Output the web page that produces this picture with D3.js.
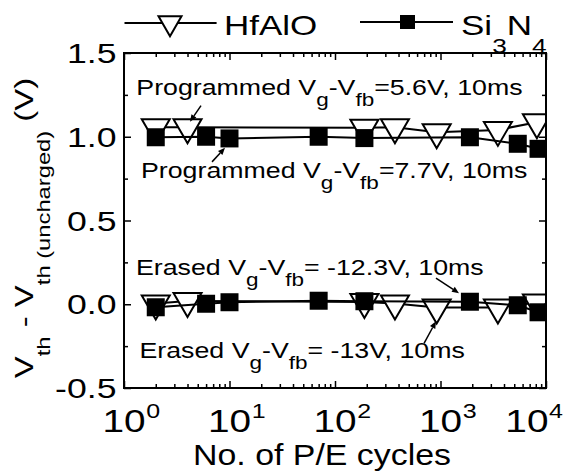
<!DOCTYPE html>
<html>
<head>
<meta charset="utf-8">
<script src="https://cdn.jsdelivr.net/npm/d3@7"></script>
<style>
  html, body { margin: 0; padding: 0; background: #fff; }
  svg { display: block; }
  text { font-family: "Liberation Sans", Arial, sans-serif; fill: #000; white-space: pre; }
</style>
</head>
<body>
<div id="chart"></div>
<script>
// P/E cycle counts at which the threshold shift was measured
const hfCycles = [2, 4, 190, 370, 920, 3500, 8200];
const siCycles = [2, 6, 10, 70, 190, 1900, 5400, 8500];

// Vth - Vth(uncharged), volts
const hfProgrammed = [1.057, 1.057, 1.053, 1.057, 1.027, 1.041, 1.087];
const hfErased     = [0.004, 0.020, 0.014, 0.004, -0.020, -0.020, 0.010];
const siProgrammed = [0.997, 1.000, 0.990, 1.000, 0.992, 0.997, 0.958, 0.928];
const siErased     = [-0.018, 0.003, 0.012, 0.021, 0.018, 0.015, -0.006, -0.048];

const xDecades = [1, 10, 100, 1000, 10000];
const xDecadeExp = ["0", "1", "2", "3", "4"];
const yMajor = [-0.5, 0.0, 0.5, 1.0, 1.5];
const yMajorLabels = ["-0.5", "0.0", "0.5", "1.0", "1.5"];
const yMinor = [-0.25, 0.25, 0.75, 1.25];

const W = 566, H = 472;
const plot = { left: 124, right: 546, top: 53, bottom: 388 };
const SX = 1.25; // horizontal stretch of the lettering

const svg = d3.select("#chart").append("svg")
  .attr("width", W).attr("height", H);

const x = d3.scaleLog().domain([1, 1e4]).range([plot.left, plot.right]);
const y = d3.scaleLinear().domain([-0.5, 1.5]).range([plot.bottom, plot.top]);

// Lays out runs of text (with sub/superscripts) one after another,
// measuring each run so the pieces butt up against each other.
function rich(parent, transform, runs, anchor) {
  const g = parent.append("g").attr("transform", transform);
  let cx = 0;
  const els = runs.map(r => {
    const t = g.append("text").attr("x", cx).attr("y", r.dy || 0)
      .attr("font-size", r.size).text(r.t);
    cx += t.node().getComputedTextLength();
    return t;
  });
  const shift = anchor === "middle" ? -cx / 2 : anchor === "end" ? -cx : 0;
  els.forEach(t => t.attr("x", +t.attr("x") + shift));
  return g;
}

// minor ticks 2..9 in each decade
const xMinor = [];
for (let d = 1; d < 1e4; d *= 10) for (let k = 2; k <= 9; k++) xMinor.push(d * k);

function styleAxis(g) {
  g.select(".domain").remove();
  g.selectAll("line").attr("stroke", "#000").attr("stroke-width", 1.5);
  g.selectAll("text").remove();
}

// inward-pointing ticks on all four sides
const axesG = svg.append("g");
axesG.append("g").attr("transform", `translate(0,${plot.bottom})`)
  .call(d3.axisBottom(x).tickValues(xDecades).tickSize(-7)).call(styleAxis);
axesG.append("g").attr("transform", `translate(0,${plot.bottom})`)
  .call(d3.axisBottom(x).tickValues(xMinor).tickSize(-4)).call(styleAxis);
axesG.append("g").attr("transform", `translate(0,${plot.top})`)
  .call(d3.axisTop(x).tickValues(xDecades).tickSize(-7)).call(styleAxis);
axesG.append("g").attr("transform", `translate(0,${plot.top})`)
  .call(d3.axisTop(x).tickValues(xMinor).tickSize(-4)).call(styleAxis);
axesG.append("g").attr("transform", `translate(${plot.left},0)`)
  .call(d3.axisLeft(y).tickValues(yMajor).tickSize(-7)).call(styleAxis);
axesG.append("g").attr("transform", `translate(${plot.left},0)`)
  .call(d3.axisLeft(y).tickValues(yMinor).tickSize(-4)).call(styleAxis);
axesG.append("g").attr("transform", `translate(${plot.right},0)`)
  .call(d3.axisRight(y).tickValues(yMajor).tickSize(-7)).call(styleAxis);
axesG.append("g").attr("transform", `translate(${plot.right},0)`)
  .call(d3.axisRight(y).tickValues(yMinor).tickSize(-4)).call(styleAxis);

// y tick labels
yMajor.forEach((v, i) => {
  svg.append("g").attr("transform", `translate(116.5,${y(v) + 10}) scale(${SX},1)`)
    .append("text").attr("text-anchor", "end").attr("font-size", 28.5)
    .text(yMajorLabels[i]);
});

// x tick labels: 10 with a superscript exponent; a label whose exponent
// would run past the figure edge is pulled back inside
xDecades.forEach((v, i) => {
  const g = svg.append("g");
  const inner = g.append("g").attr("transform", `scale(${SX},1)`);
  const base = inner.append("text").attr("text-anchor", "middle").attr("font-size", 31).text("10");
  const half = base.node().getComputedTextLength() / 2;
  const sup = inner.append("text").attr("x", half + 0.5).attr("y", -14)
    .attr("font-size", 20).text(xDecadeExp[i]);
  const rightEdge = x(v) + (half + 0.5 + sup.node().getComputedTextLength()) * SX;
  const nudge = Math.min(0, W - 3 - rightEdge);
  g.attr("transform", `translate(${x(v) + nudge},432)`);
});

// axis titles
svg.append("g").attr("transform", `translate(322,465) scale(1.13,1)`)
  .append("text").attr("text-anchor", "middle").attr("font-size", 30)
  .text("No. of P/E cycles");

rich(svg, `translate(33,228) rotate(-90) scale(1.32,1)`, [
  { t: "V", size: 25 },
  { t: "th", size: 18, dy: 17 },
  { t: " - V", size: 25 },
  { t: "th (uncharged)", size: 18, dy: 17 },
  { t: " (V)", size: 25 }
], "middle");

// plot contents, clipped to the frame
svg.append("clipPath").attr("id", "plotClip").append("rect")
  .attr("x", plot.left).attr("y", plot.top)
  .attr("width", plot.right - plot.left).attr("height", plot.bottom - plot.top);
const body = svg.append("g").attr("clip-path", "url(#plotClip)");

const line = d3.line().x(d => x(d[0])).y(d => y(d[1]));
const zip = (xs, ys) => xs.map((c, i) => [c, ys[i]]);

// downward triangle with its centroid at the origin
function triPath(hw, h) {
  return `M${-hw},${-h / 3}L${hw},${-h / 3}L0,${2 * h / 3}Z`;
}

const hfSets = [zip(hfCycles, hfProgrammed), zip(hfCycles, hfErased)];
const siSets = [zip(siCycles, siProgrammed), zip(siCycles, siErased)];

hfSets.forEach(pts => {
  body.append("path").attr("d", line(pts)).attr("fill", "none")
    .attr("stroke", "#000").attr("stroke-width", 2);
  body.selectAll(null).data(pts).enter().append("path")
    .attr("d", triPath(14, 24))
    .attr("transform", d => `translate(${x(d[0])},${y(d[1])})`)
    .attr("fill", "#fff").attr("stroke", "#000").attr("stroke-width", 2);
});

siSets.forEach(pts => {
  body.append("path").attr("d", line(pts)).attr("fill", "none")
    .attr("stroke", "#000").attr("stroke-width", 2);
  body.selectAll(null).data(pts).enter().append("rect")
    .attr("x", d => x(d[0]) - 9).attr("y", d => y(d[1]) - 9)
    .attr("width", 18).attr("height", 18).attr("fill", "#000");
});

// frame
svg.append("rect").attr("x", plot.left).attr("y", plot.top)
  .attr("width", plot.right - plot.left).attr("height", plot.bottom - plot.top)
  .attr("fill", "none").attr("stroke", "#000").attr("stroke-width", 2);

// annotations: text with V_g - V_fb subscripts
function note(px, py, before, after) {
  rich(svg, `translate(${px},${py}) scale(${SX},1)`, [
    { t: before + "V", size: 21.4 },
    { t: "g", size: 18, dy: 11 },
    { t: "-V", size: 21.4 },
    { t: "fb", size: 18, dy: 11 },
    { t: after, size: 21.4 }
  ]);
}
note(136.3, 95, "Programmed ", "=5.6V, 10ms");
note(141, 177.6, "Programmed ", "=7.7V, 10ms");
note(136, 275, "Erased ", "= -12.3V, 10ms");
note(139.5, 358.3, "Erased ", "= -13V, 10ms");

// arrows pointing from each note to its curve (data coordinates)
const arrows = [
  [[5.37, 1.186], [4.22, 1.09]],
  [[6.83, 0.850], [9.06, 0.934]],
  [[906, 0.156], [1497, 0.066]],
  [[698, -0.234], [906, -0.102]]
];
arrows.forEach(([a, b]) => {
  const x1 = x(a[0]), y1 = y(a[1]), x2 = x(b[0]), y2 = y(b[1]);
  const ang = Math.atan2(y2 - y1, x2 - x1);
  const L = 7, Wd = 3;
  const bx = x2 - L * Math.cos(ang), by = y2 - L * Math.sin(ang);
  svg.append("line").attr("x1", x1).attr("y1", y1).attr("x2", bx).attr("y2", by)
    .attr("stroke", "#000").attr("stroke-width", 1.5);
  svg.append("path")
    .attr("d", `M${x2},${y2}L${bx - Wd * Math.sin(ang)},${by + Wd * Math.cos(ang)}L${bx + Wd * Math.sin(ang)},${by - Wd * Math.cos(ang)}Z`)
    .attr("fill", "#000");
});

// legend
const lg = svg.append("g");
lg.append("line").attr("x1", 124.5).attr("x2", 216.6).attr("y1", 23).attr("y2", 23)
  .attr("stroke", "#000").attr("stroke-width", 2);
lg.append("path").attr("d", triPath(11.5, 20))
  .attr("transform", `translate(170,23)`)
  .attr("fill", "#fff").attr("stroke", "#000").attr("stroke-width", 2);
lg.append("g").attr("transform", `translate(224,34.5) scale(${SX},1)`)
  .append("text").attr("font-size", 28).text("HfAlO");

lg.append("line").attr("x1", 360).attr("x2", 453).attr("y1", 22).attr("y2", 22)
  .attr("stroke", "#000").attr("stroke-width", 2);
lg.append("rect").attr("x", 400).attr("y", 15).attr("width", 15).attr("height", 14)
  .attr("fill", "#000");
rich(lg, `translate(461,34.5) scale(${SX},1)`, [
  { t: "Si", size: 28 },
  { t: "3", size: 21, dy: 18 },
  { t: "N", size: 28 },
  { t: "4", size: 21, dy: 18 }
]);
</script>
</body>
</html>
